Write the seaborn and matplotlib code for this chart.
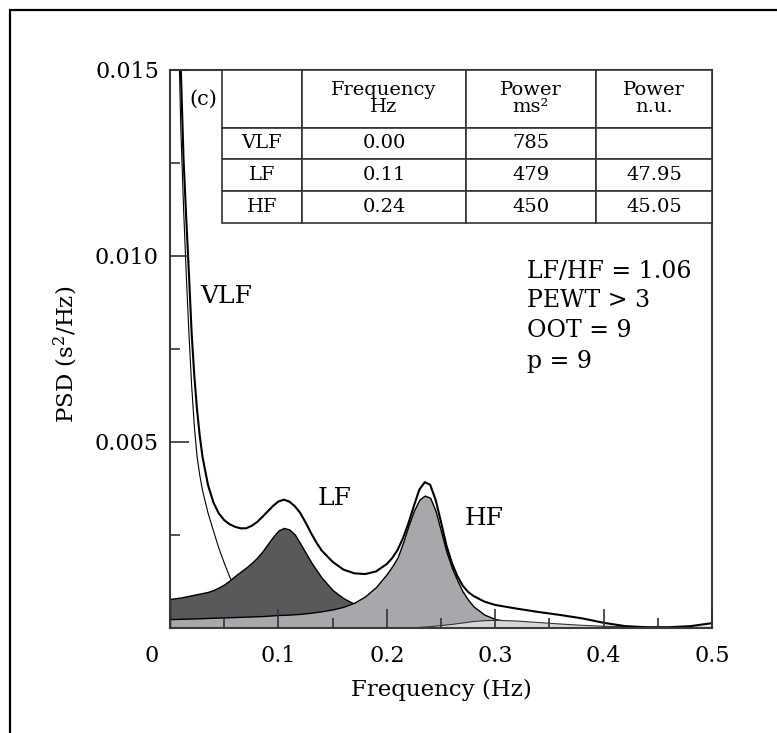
import numpy as np
import matplotlib
matplotlib.use('Agg')
import matplotlib.pyplot as plt
import matplotlib.transforms as mtransforms
from matplotlib.patches import Rectangle
import seaborn as sns

# frequency grid (Hz)
freq = [0.000, 0.005, 0.0075, 0.010, 0.0125, 0.015, 0.0175, 0.020, 0.0225, 0.025,
        0.0275, 0.030, 0.035, 0.040, 0.045, 0.050, 0.055, 0.060, 0.065, 0.070,
        0.075, 0.080, 0.085, 0.090, 0.095, 0.100, 0.105, 0.110, 0.115, 0.120,
        0.125, 0.130, 0.135, 0.140, 0.150, 0.160, 0.170, 0.180, 0.190, 0.200,
        0.205, 0.210, 0.215, 0.220, 0.225, 0.230, 0.235, 0.240, 0.245, 0.250,
        0.255, 0.260, 0.265, 0.270, 0.275, 0.280, 0.290, 0.300, 0.320, 0.340,
        0.360, 0.380, 0.400, 0.420, 0.440, 0.460, 0.480, 0.500]

# PSD values, in units of 1e-3 s^2/Hz
psd_total = [40.0, 24.0, 18.5, 15.0, 12.6, 11.0, 9.5, 7.9, 6.75, 5.85,
             5.15, 4.6, 3.85, 3.38, 3.08, 2.9, 2.79, 2.72, 2.68, 2.68,
             2.74, 2.84, 2.98, 3.13, 3.28, 3.40, 3.45, 3.40, 3.28, 3.10,
             2.84, 2.56, 2.30, 2.08, 1.78, 1.57, 1.47, 1.45, 1.52, 1.72,
             1.88, 2.10, 2.42, 2.82, 3.28, 3.72, 3.92, 3.85, 3.45, 2.85,
             2.22, 1.75, 1.40, 1.14, 0.97, 0.86, 0.71, 0.62, 0.52, 0.43,
             0.35, 0.26, 0.14, 0.05, 0.02, 0.02, 0.05, 0.13]

psd_vlf = [40.0, 21.0, 16.5, 13.4, 11.3, 9.5, 7.9, 6.5, 5.4, 4.6,
           4.1, 3.7, 3.1, 2.62, 2.15, 1.75, 1.38, 1.08, 0.9, 0.78,
           0.67, 0.58, 0.5, 0.44, 0.38, 0.33, 0.29, 0.26, 0.23, 0.21,
           0.2, 0.18, 0.17, 0.15, 0.13, 0.11, 0.10, 0.09, 0.08, 0.07,
           0.068, 0.065, 0.06, 0.058, 0.056, 0.054, 0.052, 0.05, 0.048, 0.046,
           0.044, 0.042, 0.041, 0.04, 0.039, 0.038, 0.035, 0.032, 0.028, 0.025,
           0.022, 0.02, 0.018, 0.016, 0.015, 0.014, 0.013, 0.012]

psd_lf = [0.78, 0.80, 0.81, 0.82, 0.835, 0.85, 0.865, 0.88, 0.895, 0.91,
          0.925, 0.94, 0.97, 1.02, 1.09, 1.17, 1.28, 1.40, 1.51, 1.62,
          1.74, 1.88, 2.05, 2.25, 2.45, 2.62, 2.69, 2.65, 2.52, 2.28,
          2.03, 1.78, 1.56, 1.35, 1.02, 0.80, 0.65, 0.53, 0.44, 0.37,
          0.345, 0.32, 0.30, 0.28, 0.26, 0.25, 0.24, 0.23, 0.22, 0.21,
          0.20, 0.19, 0.18, 0.17, 0.16, 0.15, 0.13, 0.11, 0.08, 0.06,
          0.045, 0.035, 0.025, 0.02, 0.015, 0.012, 0.01, 0.008]

psd_hf = [0.24, 0.243, 0.245, 0.247, 0.249, 0.251, 0.253, 0.255, 0.257, 0.26,
          0.262, 0.265, 0.27, 0.275, 0.28, 0.285, 0.29, 0.295, 0.30, 0.305,
          0.31, 0.315, 0.32, 0.33, 0.34, 0.35, 0.355, 0.36, 0.37, 0.38,
          0.395, 0.41, 0.43, 0.45, 0.50, 0.57, 0.68, 0.85, 1.10, 1.45,
          1.66, 1.90, 2.30, 2.75, 3.15, 3.45, 3.56, 3.50, 3.15, 2.60,
          2.05, 1.62, 1.28, 0.98, 0.76, 0.58, 0.36, 0.24, 0.13, 0.08,
          0.05, 0.035, 0.025, 0.02, 0.015, 0.012, 0.01, 0.01]

psd_extra = [0.0, 0.0, 0.0, 0.0, 0.0, 0.0, 0.0, 0.0, 0.0, 0.0,
             0.0, 0.0, 0.0, 0.0, 0.0, 0.0, 0.0, 0.0, 0.0, 0.0,
             0.0, 0.0, 0.0, 0.0, 0.0, 0.0, 0.0, 0.0, 0.0, 0.0,
             0.0, 0.0, 0.0, 0.0, 0.0, 0.0, 0.0, 0.0, 0.0, 0.0,
             0.003, 0.005, 0.01, 0.015, 0.02, 0.03, 0.04, 0.05, 0.065, 0.08,
             0.095, 0.11, 0.13, 0.15, 0.17, 0.19, 0.21, 0.22, 0.20, 0.16,
             0.12, 0.085, 0.06, 0.045, 0.035, 0.03, 0.03, 0.03]

# table
table_header = ['', 'Frequency\nHz', 'Power\nms²', 'Power\nn.u.']
band_names = ['VLF', 'LF', 'HF']
band_freq = ['0.00', '0.11', '0.24']
band_power = ['785', '479', '450']
band_nu = ['', '47.95', '45.05']

stats_lines = ['LF/HF = 1.06', 'PEWT > 3', 'OOT = 9', 'p = 9']

sns.set_theme(style='ticks')
plt.rcParams['font.family'] = ['DejaVu Serif']
plt.rcParams['mathtext.fontset'] = 'dejavuserif'
plt.rcParams['text.color'] = 'black'
plt.rcParams['axes.labelcolor'] = 'black'

f = np.array(freq)
scale = 1e-3
total = np.array(psd_total) * scale
vlf = np.array(psd_vlf) * scale
lf = np.array(psd_lf) * scale
hf = np.array(psd_hf) * scale
extra = np.array(psd_extra) * scale

fig = plt.figure(figsize=(7.77, 7.33), dpi=100)
ax = fig.add_axes([170 / 777, 105 / 733, 542 / 777, 558 / 733])

sns.lineplot(x=f, y=vlf, ax=ax, color='black', lw=0.8, zorder=1)
ax.fill_between(f, lf, color='#58595b', ec='black', lw=1.0, zorder=2)
ax.fill_between(f, hf, color='#a6a8ab', ec='black', lw=1.0, zorder=3)
ax.fill_between(f, extra, color='#d6d7d9', ec='#333333', lw=0.8, zorder=4)
sns.lineplot(x=f, y=total, ax=ax, color='black', lw=1.5, zorder=5)

ax.set_xlim(0, 0.5)
ax.set_ylim(0, 0.015)
ax.set_xticks([0, 0.1, 0.2, 0.3, 0.4, 0.5])
ax.set_xticklabels(['0', '0.1', '0.2', '0.3', '0.4', '0.5'])
ax.set_xticks([0.05, 0.15, 0.25, 0.35, 0.45], minor=True)
ax.set_yticks([0.005, 0.010, 0.015])
ax.set_yticklabels(['0.005', '0.010', '0.015'])
ax.set_yticks([0.0025, 0.0075, 0.0125], minor=True)

ax.tick_params(which='both', direction='in', color='#333333', width=1.2,
               top=False, right=False, labelcolor='black')
ax.tick_params(which='major', length=14)
ax.tick_params(which='minor', length=7.5)
ax.tick_params(axis='x', which='major', pad=12, labelsize=16)
ax.tick_params(axis='y', which='major', pad=8, labelsize=16)
ax.xaxis.set_zorder(6)
ax.yaxis.set_zorder(6)
for s in ax.spines.values():
    s.set_linewidth(1.5)
    s.set_color('#3c3c3c')
    s.set_zorder(6)

# the "0" label sits left of the axis in the original
lbl = ax.xaxis.get_major_ticks()[0].label1
lbl.set_transform(lbl.get_transform() +
                  mtransforms.ScaledTranslation(-0.18, 0, fig.dpi_scale_trans))

ax.set_xlabel('Frequency (Hz)', fontsize=16.5)
ax.xaxis.set_label_coords(0.5, -0.092)
ax.set_ylabel('PSD (s$^2$/Hz)', fontsize=16.5)
ax.yaxis.set_label_coords(-0.166, 0.49)

# table in the upper right corner
cells = [[n, fr, p, u] for n, fr, p, u in zip(band_names, band_freq, band_power, band_nu)]
tbl = ax.table(cellText=cells, colLabels=table_header,
               colWidths=[0.163, 0.335, 0.265, 0.237],
               cellLoc='center', bbox=[0.096, 0.726, 0.904, 0.274])
tbl.auto_set_font_size(False)
tbl.set_fontsize(14)
tbl.set_zorder(7)
for (r, c), cell in tbl.get_celld().items():
    cell.set_edgecolor('#333333')
    cell.set_linewidth(1.2)
    cell.set_height(0.058 if r == 0 else 0.032)
    cell.get_text().set_linespacing(0.95)

ax.text(0.035, 0.948, '(c)', transform=ax.transAxes, fontsize=15, va='center')
ax.text(0.055, 0.582, 'VLF', transform=ax.transAxes, fontsize=18, va='baseline')
ax.text(0.273, 0.220, 'LF', transform=ax.transAxes, fontsize=18, va='baseline')
ax.text(0.544, 0.185, 'HF', transform=ax.transAxes, fontsize=18, va='baseline')
for txt, y in zip(stats_lines, [0.627, 0.575, 0.522, 0.466]):
    ax.text(0.659, y, txt, transform=ax.transAxes, fontsize=17, va='baseline')

# frame around the figure (cut at right and bottom in the original)
fig.patches.append(Rectangle((10 / 777, -0.05), 1.2, 1.0364, transform=fig.transFigure,
                             fill=False, ec='black', lw=1.6))

fig.savefig('out.png', dpi=100)
